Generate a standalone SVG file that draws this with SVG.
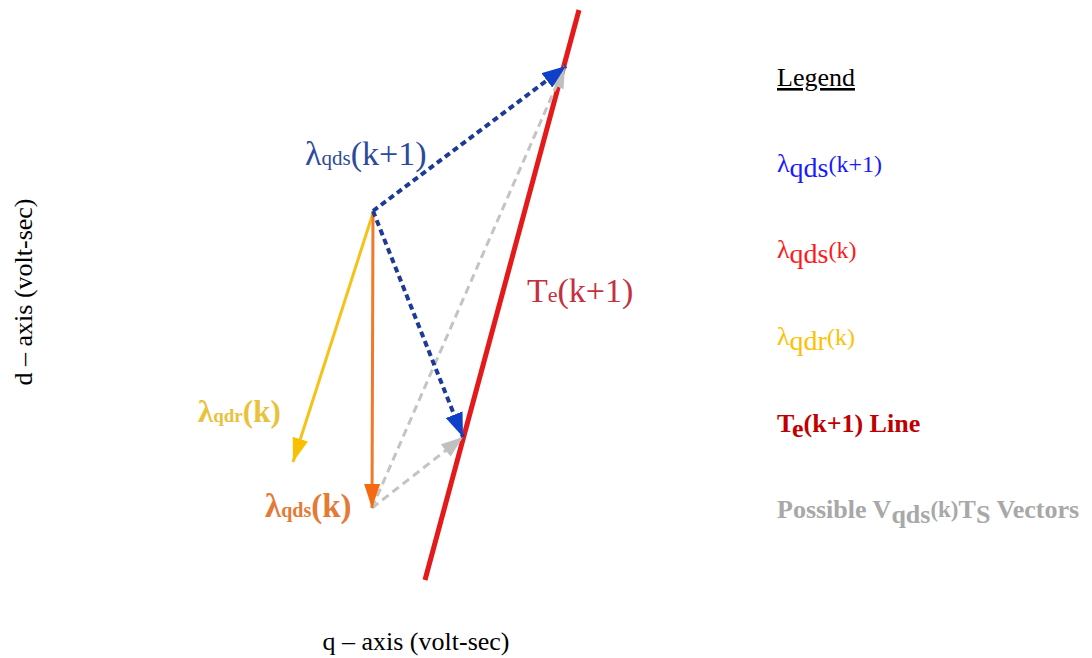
<svg xmlns="http://www.w3.org/2000/svg" width="1092" height="658" viewBox="0 0 1092 658">
<style>
text{font-family:"Liberation Serif","Times New Roman",serif}
.blue{stroke:#1c3a96;stroke-width:4;stroke-dasharray:6 4;fill:none}
.gray{stroke:#c4c4c4;stroke-width:3;stroke-dasharray:8 5;fill:none}
.b{font-weight:bold}
</style>
<defs>
<marker id="ab" viewBox="0 0 24 18" refX="24" refY="9" markerWidth="24" markerHeight="18" markerUnits="userSpaceOnUse" orient="auto"><path d="M0,0L24,9L0,18z" fill="#1040c8"/></marker>
<marker id="ag" viewBox="0 0 22 16" refX="22" refY="8" markerWidth="22" markerHeight="16" markerUnits="userSpaceOnUse" orient="auto"><path d="M0,0L22,8L0,16z" fill="#c0c0c0"/></marker>
<marker id="ay" viewBox="0 0 24 16" refX="24" refY="8" markerWidth="24" markerHeight="16" markerUnits="userSpaceOnUse" orient="auto"><path d="M0,0L24,8L0,16z" fill="#f8c000"/></marker>
<marker id="ao" viewBox="0 0 24 16" refX="24" refY="8" markerWidth="24" markerHeight="16" markerUnits="userSpaceOnUse" orient="auto"><path d="M0,0L24,8L0,16z" fill="#f56a10"/></marker>
</defs>
<g id="te-line"><line x1="579" y1="10" x2="425" y2="580" stroke="#e41a1a" stroke-width="5"/></g>
<g id="connectors">
<line class="gray" x1="372" y1="508" x2="565" y2="66" marker-end="url(#ag)"/>
<line class="gray" x1="372" y1="508" x2="463" y2="437" marker-end="url(#ag)"/>
<line x1="373" y1="213" x2="293" y2="462" stroke="#f5c21a" stroke-width="3" marker-end="url(#ay)"/>
<line x1="373" y1="213" x2="372" y2="508" stroke="#ee7a2a" stroke-width="3" marker-end="url(#ao)"/>
<line class="blue" x1="373" y1="211" x2="566" y2="66" marker-end="url(#ab)"/>
<line class="blue" x1="373" y1="211" x2="463" y2="437" marker-end="url(#ab)"/>
</g>
<g id="label-lqds-k1"><text x="305" y="165" fill="#2c4a9c" font-size="34">λ<tspan font-size="21">qds</tspan>(k+1)</text></g>
<g id="label-te"><text x="527" y="302" fill="#c43040" font-size="34">T<tspan font-size="22">e</tspan>(k+1)</text></g>
<g id="label-lqdr"><text x="198" y="422" fill="#e8c23a" font-size="31" class="b">λ<tspan font-size="19">qdr</tspan>(k)</text></g>
<g id="label-lqds-k"><text x="265" y="517" fill="#e47a35" font-size="33" class="b">λ<tspan font-size="20">qds</tspan>(k)</text></g>
<g id="legend">
<text x="777" y="86" font-size="26" fill="#000" text-decoration="underline">Legend</text>
<text x="777" y="172" font-size="26" fill="#1a1aff">λ<tspan dy="5" font-size="28">qds</tspan><tspan dy="-5" font-size="24">(k+1)</tspan></text>
<text x="777" y="258" font-size="26" fill="#ff1a1a">λ<tspan dy="5" font-size="28">qds</tspan><tspan dy="-5" font-size="24">(k)</tspan></text>
<text x="777" y="345" font-size="26" fill="#ffc000">λ<tspan dy="5" font-size="28">qdr</tspan><tspan dy="-5" font-size="24">(k)</tspan></text>
<text x="777" y="432" font-size="26" fill="#c00000" class="b">T<tspan dy="5">e</tspan><tspan dy="-5">(k+1) Line</tspan></text>
<text x="777" y="518" font-size="26" fill="#a8a8a8" class="b">Possible V<tspan dy="5">qds</tspan><tspan dy="-6" font-size="23">(k)</tspan><tspan dy="1">T</tspan><tspan dy="5">S</tspan><tspan dy="-5"> Vectors</tspan></text>
</g>
<g id="axes">
<text x="0" y="0" font-size="26" fill="#000" text-anchor="middle" transform="translate(32,292) rotate(-90)">d – axis (volt-sec)</text>
<text x="416" y="650" font-size="26" fill="#000" text-anchor="middle">q – axis (volt-sec)</text>
</g>
</svg>
